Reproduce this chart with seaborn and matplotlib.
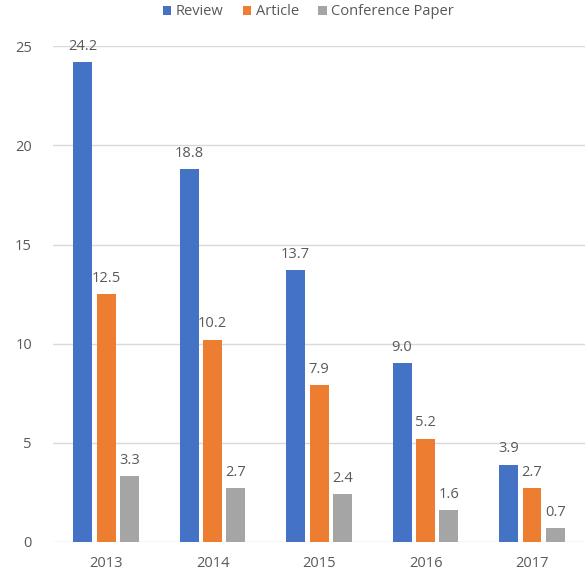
import matplotlib
matplotlib.use("Agg")
import matplotlib.pyplot as plt
import seaborn as sns
import pandas as pd

years = ["2013", "2014", "2015", "2016", "2017"]
review = [24.2, 18.8, 13.7, 9.0, 3.9]
article = [12.5, 10.2, 7.9, 5.2, 2.7]
conference = [3.3, 2.7, 2.4, 1.6, 0.7]
series_names = ["Review", "Article", "Conference Paper"]
colors = ["#4472C4", "#ED7D31", "#A5A5A5"]

df = pd.DataFrame({
    "Year": years * 3,
    "Value": review + article + conference,
    "Type": [s for s in series_names for _ in years],
})

sns.set_theme(style="white")
plt.rcParams["font.family"] = ["Open Sans", "DejaVu Sans"]
text_color = "#595959"

fig = plt.figure(figsize=(5.87, 5.71), dpi=100)
ax = fig.add_axes([0.09, 0.051, 0.907, 0.868])

sns.barplot(data=df, x="Year", y="Value", hue="Type", palette=colors,
            hue_order=series_names, width=0.66, gap=0.19, ax=ax,
            errorbar=None, saturation=1, linewidth=0, zorder=3)

for container in ax.containers:
    ax.bar_label(container, fmt="%.1f", padding=6, fontsize=10.5, color=text_color)

ax.set_ylim(0, 25)
ax.set_yticks([0, 5, 10, 15, 20, 25])
ax.yaxis.grid(True, color="#D9D9D9", linewidth=1, zorder=0)
ax.set_axisbelow(True)
for s in ["top", "right", "left", "bottom"]:
    ax.spines[s].set_visible(False)
ax.tick_params(axis="both", length=0, labelsize=10.5, labelcolor=text_color)
ax.tick_params(axis="y", pad=15)
ax.tick_params(axis="x", pad=10)
ax.set_xlabel("")
ax.set_ylabel("")

handles, labels = ax.get_legend_handles_labels()
ax.get_legend().remove()
fig.legend(handles, labels, loc="upper center", bbox_to_anchor=(0.525, 1.005),
           ncol=3, frameon=False, fontsize=10.5, handlelength=0.6, handleheight=0.6,
           handletextpad=0.3, columnspacing=1.3, labelcolor=text_color,
           borderaxespad=0.1)

fig.savefig("out.png", dpi=100)
